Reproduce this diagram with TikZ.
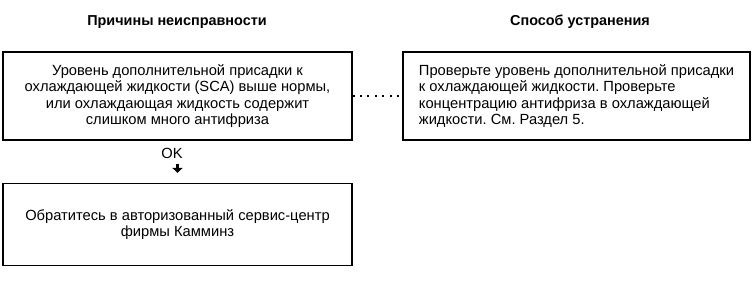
\documentclass[tikz,border=0pt]{standalone}
\usepackage{fontspec}
\setmainfont{Liberation Sans}
\usetikzlibrary{arrows.meta,positioning}
\frenchspacing

\begin{document}
\begin{tikzpicture}[x=1pt, y=-1pt,
  hbox/.style={font=\fontsize{14.4}{16.5}\selectfont\bfseries, align=center},
  cbox/.style={rectangle, draw=black, line width=1.2pt,
               minimum width=349pt, minimum height=88pt,
               font=\fontsize{14.7}{16.5}\selectfont, align=center},
  rbox/.style={rectangle, draw=black, line width=1.2pt,
               minimum width=347pt, minimum height=88pt,
               font=\fontsize{14.7}{16.5}\selectfont, align=left},
  okarr/.style={-{Triangle[width=10pt,length=5pt]}, line width=3.5pt},
  dots/.style={line width=2pt, dash pattern=on 2pt off 5.4pt}
]
\useasboundingbox (0,0) rectangle (756,283);

% Headings
\node[hbox] (hcause) at (177,22) {Причины неисправности};
\node[hbox] (hfix)   at (580,22) {Способ устранения};

% Boxes
\node[cbox] (cause) at (177.5,96)
  {Уровень дополнительной присадки к\\
   охлаждающей жидкости (SCA) выше нормы,\\
   или охлаждающая жидкость содержит\\
   слишком много антифриза};

\node[rbox] (fix) at (576.5,96)
  {Проверьте уровень дополнительной присадки\\
   к охлаждающей жидкости. Проверьте\\
   концентрацию антифриза в охлаждающей\\
   жидкости. См. Раздел 5.};

\node[cbox, minimum height=82pt] (service) at (177.5,224.5)
  {Обратитесь в авторизованный сервис-центр\\
   фирмы Камминз};

\node[font=\fontsize{14.7}{16.5}\selectfont] (ok) at (172,153) {OK};

% Connectors
\draw[dots] (cause.east) -- (fix.west);
\draw[okarr, shorten <=2pt, shorten >=10pt] (ok.south -| service.north) -- (service.north);
\end{tikzpicture}
\end{document}
